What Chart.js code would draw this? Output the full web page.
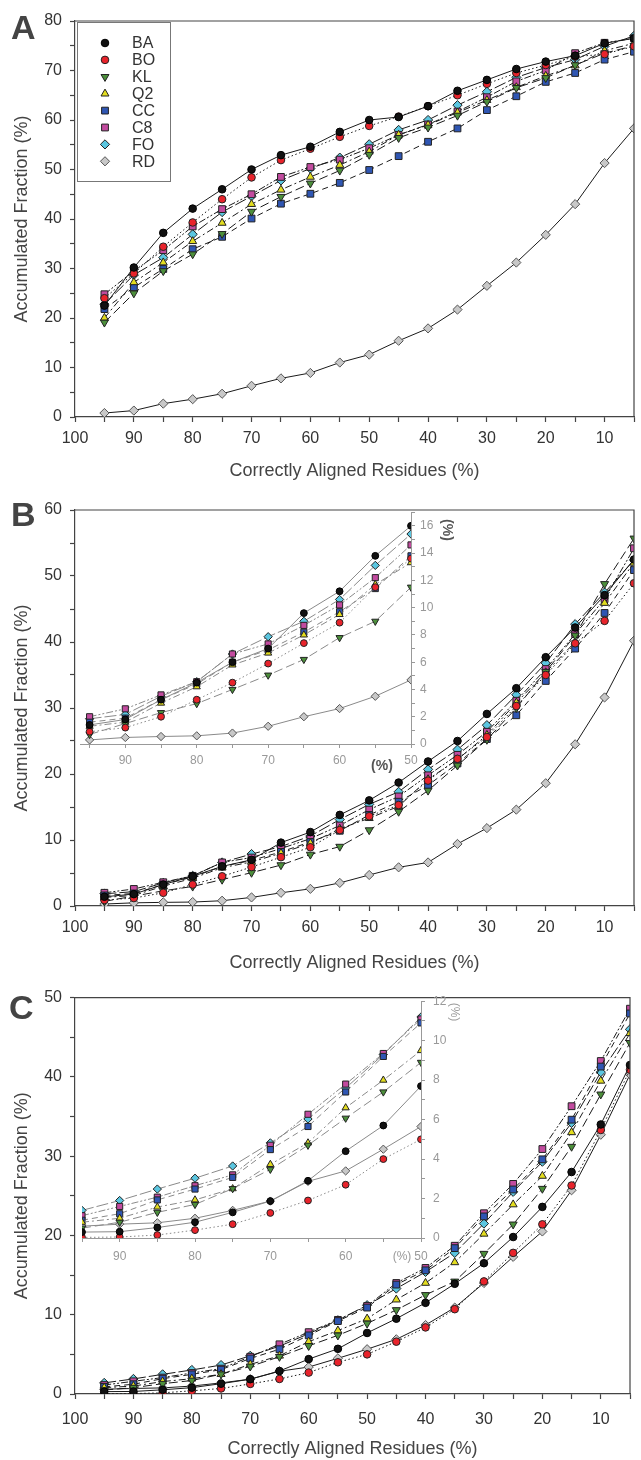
<!DOCTYPE html>
<html>
<head>
<meta charset="utf-8">
<script src="https://cdn.jsdelivr.net/npm/chart.js@4.4.0/dist/chart.umd.min.js"></script>
<style>
  body { margin: 0; background: #fff; }
  #page { position: relative; width: 641px; height: 1460px; overflow: hidden; background: #fff; }
  canvas { position: absolute; }
  .tag { position: absolute; font: bold 34px 'Liberation Sans', Arial, sans-serif; color: #444; line-height: 1; }
</style>
</head>
<body>
<div id="page">
  <canvas id="chartA" width="641" height="490" style="left:0;top:0"></canvas>
  <canvas id="chartB" width="641" height="490" style="left:0;top:490px"></canvas>
  <canvas id="insetB" width="400" height="290" style="left:75px;top:500px"></canvas>
  <canvas id="chartC" width="641" height="480" style="left:0;top:980px"></canvas>
  <canvas id="insetC" width="400" height="290" style="left:75px;top:986px"></canvas>
  <div class="tag" style="left:11px;top:10px">A</div>
  <div class="tag" style="left:11px;top:497px">B</div>
  <div class="tag" style="left:9px;top:990px">C</div>
</div>
<script>
const FONT = "'Liberation Sans', Arial, sans-serif";

// correctly aligned residues (%), shared by all panels
const residues = [95, 90, 85, 80, 75, 70, 65, 60, 55, 50, 45, 40, 35, 30, 25, 20, 15, 10, 5];
const seriesNames = ['BA', 'BO', 'KL', 'Q2', 'CC', 'C8', 'FO', 'RD'];

// panel A
const aBA = [22.5, 30.2, 37.2, 42.1, 46.0, 50.0, 52.9, 54.6, 57.6, 60.0, 60.6, 62.8, 65.9, 68.1, 70.3, 71.8, 73.0, 75.5, 76.5];
const aBO = [24.0, 29.0, 34.4, 39.3, 44.0, 48.4, 51.9, 54.2, 56.6, 58.8, 60.7, 62.8, 65.0, 67.3, 69.5, 71.1, 72.8, 73.3, 74.9];
const aKL = [19.1, 25.0, 29.5, 32.9, 37.0, 41.5, 44.5, 47.2, 49.8, 53.0, 56.4, 58.5, 60.9, 63.7, 66.5, 68.5, 71.1, 73.5, 75.0];
const aQ2 = [20.0, 27.2, 31.2, 35.5, 39.2, 43.0, 45.9, 48.5, 50.9, 53.6, 57.0, 59.0, 61.5, 64.0, 66.6, 68.9, 71.0, 74.0, 75.5];
const aCC = [21.8, 26.2, 29.9, 33.9, 36.4, 40.1, 43.1, 45.1, 47.3, 49.9, 52.7, 55.6, 58.3, 62.0, 64.8, 67.7, 69.5, 72.2, 73.8];
const aC8 = [24.8, 29.5, 33.7, 38.5, 42.0, 45.0, 48.5, 50.5, 52.0, 54.3, 57.0, 59.1, 61.7, 64.6, 67.8, 70.0, 73.5, 75.6, 76.5];
const aFO = [22.8, 28.7, 32.2, 36.9, 41.4, 44.6, 47.8, 50.2, 52.4, 55.1, 58.0, 60.0, 63.0, 65.7, 68.6, 70.6, 72.2, 74.9, 77.0];
const aRD = [0.8, 1.3, 2.7, 3.6, 4.7, 6.3, 7.8, 8.9, 11.0, 12.6, 15.4, 17.9, 21.7, 26.5, 31.2, 36.8, 43.0, 51.3, 58.3];

// panel B
const bBA = [1.4, 1.8, 3.25, 4.5, 6.0, 7.0, 9.6, 11.2, 13.8, 16.0, 18.7, 21.9, 25.0, 29.1, 33.0, 37.7, 42.2, 47.1, 52.5];
const bBO = [0.9, 1.2, 2.0, 3.25, 4.5, 5.9, 7.4, 8.9, 11.5, 13.6, 15.3, 19.0, 22.3, 25.6, 30.3, 35.0, 39.8, 43.2, 48.9];
const bKL = [0.7, 1.5, 2.3, 2.96, 4.0, 5.05, 6.2, 7.8, 9.0, 11.5, 14.3, 17.5, 21.3, 25.2, 30.0, 35.5, 41.0, 48.8, 55.7];
const bQ2 = [1.3, 1.6, 3.0, 4.2, 5.8, 6.67, 8.0, 9.5, 11.7, 13.3, 15.1, 19.2, 22.2, 25.9, 30.8, 35.4, 40.0, 45.9, 52.0];
const bCC = [1.6, 1.9, 3.25, 4.4, 6.0, 6.9, 8.2, 9.7, 11.4, 13.8, 15.8, 18.3, 21.6, 25.3, 28.9, 34.1, 39.0, 44.4, 50.9];
const bC8 = [2.0, 2.58, 3.6, 4.57, 6.6, 7.34, 8.7, 10.2, 12.2, 14.6, 16.6, 19.8, 22.9, 26.4, 31.1, 35.9, 41.2, 46.5, 54.2];
const bFO = [1.85, 2.17, 3.5, 4.57, 6.6, 7.87, 9.0, 10.6, 13.1, 15.4, 17.3, 20.7, 23.7, 27.4, 32.0, 36.8, 42.7, 47.5, 52.4];
const bRD = [0.3, 0.48, 0.55, 0.6, 0.8, 1.3, 2.0, 2.6, 3.5, 4.7, 5.86, 6.6, 9.4, 11.8, 14.6, 18.6, 24.5, 31.6, 40.2];

// panel C
const cBA = [0.3, 0.32, 0.53, 0.8, 1.3, 1.87, 2.9, 4.4, 5.7, 7.7, 9.5, 11.5, 13.9, 16.5, 19.8, 23.6, 28.0, 34.0, 41.5];
const cBO = [0.03, 0.05, 0.15, 0.4, 0.7, 1.27, 1.9, 2.7, 4.0, 5.0, 6.6, 8.4, 10.7, 14.2, 17.8, 21.4, 26.3, 33.3, 40.9];
const cKL = [0.5, 0.8, 1.3, 1.7, 2.5, 3.48, 4.7, 6.07, 7.4, 8.9, 10.6, 12.5, 14.2, 17.7, 21.4, 25.9, 31.2, 37.8, 44.3];
const cQ2 = [0.8, 1.0, 1.57, 1.93, 2.5, 3.73, 4.82, 6.6, 8.0, 9.5, 11.9, 14.0, 16.6, 20.2, 23.9, 27.5, 33.0, 39.5, 45.5];
const cCC = [0.9, 1.23, 1.93, 2.48, 3.07, 4.48, 5.65, 7.4, 9.2, 10.9, 13.8, 15.6, 18.4, 22.4, 25.8, 29.6, 34.6, 41.3, 48.0];
const cC8 = [1.13, 1.6, 2.07, 2.65, 3.2, 4.7, 6.27, 7.8, 9.35, 11.1, 14.0, 15.9, 18.7, 22.8, 26.5, 30.9, 36.3, 42.0, 48.6];
const cFO = [1.4, 1.9, 2.48, 3.03, 3.65, 4.82, 6.03, 7.6, 9.3, 11.2, 13.3, 15.4, 17.8, 21.5, 25.5, 29.3, 34.2, 40.6, 46.0];
const cRD = [0.6, 0.7, 0.77, 1.0, 1.4, 1.87, 2.87, 3.4, 4.5, 5.65, 6.9, 8.7, 10.9, 14.0, 17.3, 20.5, 25.7, 32.7, 40.3];

// ticks
const mainXTicks = [100, 95, 90, 85, 80, 75, 70, 65, 60, 55, 50, 45, 40, 35, 30, 25, 20, 15, 10, 5];
const mainXLabels = [100, 90, 80, 70, 60, 50, 40, 30, 20, 10];
const insetXTicks = [95, 90, 85, 80, 75, 70, 65, 60, 55, 50];
const insetXLabels = [90, 80, 70, 60, 50];
const aYLabels = [0, 10, 20, 30, 40, 50, 60, 70, 80];
const bYLabels = [0, 10, 20, 30, 40, 50, 60];
const cYLabels = [0, 10, 20, 30, 40, 50];
const bInsetYLabels = [0, 2, 4, 6, 8, 10, 12, 14, 16];
const cInsetYLabels = [0, 2, 4, 6, 8, 10, 12];

const seriesStyle = [
  { shape: 'circle',   rot: 0,   r: 3.8, fill: '#111111', edge: '#000', dash: [] },
  { shape: 'circle',   rot: 0,   r: 3.8, fill: '#e8232b', edge: '#222', dash: [1.5, 2.5] },
  { shape: 'triangle', rot: 180, r: 4.6, fill: '#4c8f3b', edge: '#222', dash: [9, 4] },
  { shape: 'triangle', rot: 0,   r: 4.6, fill: '#e3dd1f', edge: '#222', dash: [7, 3, 2, 3] },
  { shape: 'rect',     rot: 0,   r: 4.8, fill: '#2f56b3', edge: '#222', dash: [6, 4] },
  { shape: 'rect',     rot: 0,   r: 4.8, fill: '#c24b9f', edge: '#222', dash: [7, 2, 2, 2, 2, 2] },
  { shape: 'rectRot',  rot: 0,   r: 4.6, fill: '#5bc6e0', edge: '#222', dash: [12, 3] },
  { shape: 'rectRot',  rot: 0,   r: 4.6, fill: '#c8c8c8', edge: '#555', dash: [] }
];

Chart.defaults.font.family = FONT;

function buildSets(values, inset) {
  return seriesNames.map((name, i) => {
    const st = seriesStyle[i];
    let pts = residues.map((x, j) => ({ x: x, y: values[i][j] }));
    if (inset) pts = pts.filter(p => p.x >= 50);
    return {
      label: name,
      data: pts,
      borderColor: inset ? '#8a8a8a' : '#1a1a1a',
      borderWidth: 1,
      borderDash: st.dash,
      pointStyle: st.shape,
      pointRotation: st.rot,
      pointRadius: inset ? st.r * 0.9 : st.r,
      pointBackgroundColor: st.fill,
      pointBorderColor: st.edge,
      pointBorderWidth: 1,
      tension: 0,
      fill: false
    };
  });
}

const framePlugin = {
  id: 'frame',
  afterDraw(chart) {
    const a = chart.chartArea, ctx = chart.ctx;
    ctx.save();
    ctx.strokeStyle = '#444';
    ctx.lineWidth = 1.2;
    ctx.beginPath();
    ctx.moveTo(a.left, a.top);
    ctx.lineTo(a.right, a.top);
    ctx.lineTo(a.right, a.bottom);
    ctx.stroke();
    ctx.restore();
  }
};

const legendBox = {
  id: 'legendBox',
  afterDraw(chart) {
    const ctx = chart.ctx;
    ctx.save();
    ctx.fillStyle = '#fff';
    ctx.fillRect(78, 23, 92, 158);
    ctx.strokeStyle = '#777';
    ctx.lineWidth = 1;
    ctx.strokeRect(77.5, 22.5, 93, 159);
    ctx.font = '16px ' + FONT;
    ctx.textBaseline = 'middle';
    seriesNames.forEach((name, i) => {
      const y = 43 + i * 16.9;
      const st = seriesStyle[i];
      ctx.fillStyle = st.fill;
      ctx.strokeStyle = st.edge;
      ctx.lineWidth = 1;
      ctx.setLineDash([]);
      Chart.helpers.drawPoint(ctx, { pointStyle: st.shape, rotation: st.rot, radius: st.r, borderWidth: 1 }, 105, y);
      ctx.fillStyle = '#333';
      ctx.fillText(name, 132, y + 1);
    });
    ctx.restore();
  }
};

function mainChart(id, values, opt) {
  return new Chart(document.getElementById(id), {
    type: 'line',
    data: { datasets: buildSets(values, false) },
    options: {
      responsive: false,
      animation: false,
      layout: { padding: { top: opt.padTop, right: 2, left: 0, bottom: 0 } },
      plugins: { legend: { display: false }, tooltip: { enabled: false } },
      scales: {
        x: {
          type: 'linear', reverse: true, min: 5, max: 100,
          afterBuildTicks: s => { s.ticks = mainXTicks.map(v => ({ value: v })); },
          afterFit: s => { s.height = opt.xAxisH; },
          ticks: {
            autoSkip: false, maxRotation: 0, padding: opt.xLabelPad, color: '#333',
            font: { size: 16 },
            callback: v => mainXLabels.includes(v) ? String(v) : ''
          },
          grid: { drawOnChartArea: false, tickLength: 5, color: '#444', tickWidth: 1.2 },
          border: { color: '#444', width: 1.2 },
          title: {
            display: true, text: 'Correctly Aligned Residues (%)', color: '#444',
            font: { size: 18 }, padding: { top: 0, bottom: opt.xTitlePad }
          }
        },
        y: {
          type: 'linear', min: 0, max: opt.yMax,
          afterFit: s => { s.width = 75; },
          ticks: {
            stepSize: 5, autoSkip: false, padding: 8, color: '#333',
            font: { size: 16 },
            callback: v => opt.yLabels.includes(v) ? String(v) : ''
          },
          grid: { drawOnChartArea: false, tickLength: 5, color: '#444', tickWidth: 1.2 },
          border: { color: '#444', width: 1.2 },
          title: {
            display: true, text: 'Accumulated Fraction (%)', color: '#444',
            font: { size: 18 }, padding: { top: 11, bottom: 0 }
          }
        }
      }
    },
    plugins: [framePlugin].concat(opt.extra || [])
  });
}

function insetPlugin(xt, yt, font, color) {
  return {
    id: 'insetDecor',
    beforeDraw(chart) {
      const a = chart.chartArea, ctx = chart.ctx;
      ctx.save();
      ctx.fillStyle = '#fff';
      ctx.fillRect(a.left + 1, a.top + 1, a.right - a.left - 1, a.bottom - a.top - 1);
      ctx.restore();
    },
    afterDraw(chart) {
      const ctx = chart.ctx;
      ctx.save();
      ctx.fillStyle = color;
      ctx.font = font;
      ctx.textAlign = 'center';
      ctx.textBaseline = 'middle';
      ctx.fillText('(%)', xt[0], xt[1]);
      ctx.translate(yt[0], yt[1]);
      ctx.rotate(Math.PI / 2);
      ctx.fillText('(%)', 0, 0);
      ctx.restore();
    }
  };
}

function insetChart(id, values, opt) {
  return new Chart(document.getElementById(id), {
    type: 'line',
    data: { datasets: buildSets(values, true) },
    options: {
      responsive: false,
      animation: false,
      layout: { padding: { top: 10, right: 0, left: 0, bottom: 0 } },
      plugins: { legend: { display: false }, tooltip: { enabled: false } },
      scales: {
        x: {
          type: 'linear', reverse: true, min: opt.xMin, max: 50,
          afterBuildTicks: s => { s.ticks = insetXTicks.map(v => ({ value: v })); },
          afterFit: s => { s.height = opt.xAxisH; },
          ticks: {
            autoSkip: false, maxRotation: 0, padding: opt.xLabelPad, color: '#999',
            font: { size: 12 },
            callback: v => insetXLabels.includes(v) ? String(v) : ''
          },
          grid: { drawOnChartArea: false, tickLength: 4, color: '#999' },
          border: { color: '#999', width: 1 }
        },
        y: {
          type: 'linear', position: 'right', min: 0, max: opt.yMax,
          afterFit: s => { s.width = opt.yAxisW; },
          ticks: {
            stepSize: 1, autoSkip: false, padding: opt.yLabelPad, color: '#999',
            font: { size: 12 },
            callback: v => opt.yLabels.includes(v) ? String(v) : ''
          },
          grid: { drawOnChartArea: false, tickLength: 4, color: '#999' },
          border: { color: '#999', width: 1 }
        }
      }
    },
    plugins: [insetPlugin(opt.xTitle, opt.yTitle, opt.titleFont, opt.titleColor)]
  });
}

mainChart('chartA', [aBA, aBO, aKL, aQ2, aCC, aC8, aFO, aRD], {
  padTop: 21, xAxisH: 73, xLabelPad: 7, xTitlePad: 8, yMax: 80, yLabels: aYLabels, extra: [legendBox]
});
mainChart('chartB', [bBA, bBO, bKL, bQ2, bCC, bC8, bFO, bRD], {
  padTop: 20, xAxisH: 74, xLabelPad: 7, xTitlePad: 6, yMax: 60, yLabels: bYLabels
});
mainChart('chartC', [cBA, cBO, cKL, cQ2, cCC, cC8, cFO, cRD], {
  padTop: 16, xAxisH: 66, xLabelPad: 11, xTitlePad: 0, yMax: 50, yLabels: cYLabels
});

insetChart('insetB', [bBA, bBO, bKL, bQ2, bCC, bC8, bFO, bRD], {
  xMin: 96.3, yMax: 17, yLabels: bInsetYLabels, xAxisH: 46, yAxisW: 64, xLabelPad: 5, yLabelPad: 5,
  xTitle: [307, 266], yTitle: [372, 30], titleFont: 'bold 14px ' + FONT, titleColor: '#555'
});
insetChart('insetC', [cBA, cBO, cKL, cQ2, cCC, cC8, cFO, cRD], {
  xMin: 95, yMax: 12, yLabels: cInsetYLabels, xAxisH: 38, yAxisW: 54, xLabelPad: 7, yLabelPad: 8,
  xTitle: [327, 271], yTitle: [379, 26], titleFont: '12px ' + FONT, titleColor: '#999'
});
</script>
</body>
</html>
